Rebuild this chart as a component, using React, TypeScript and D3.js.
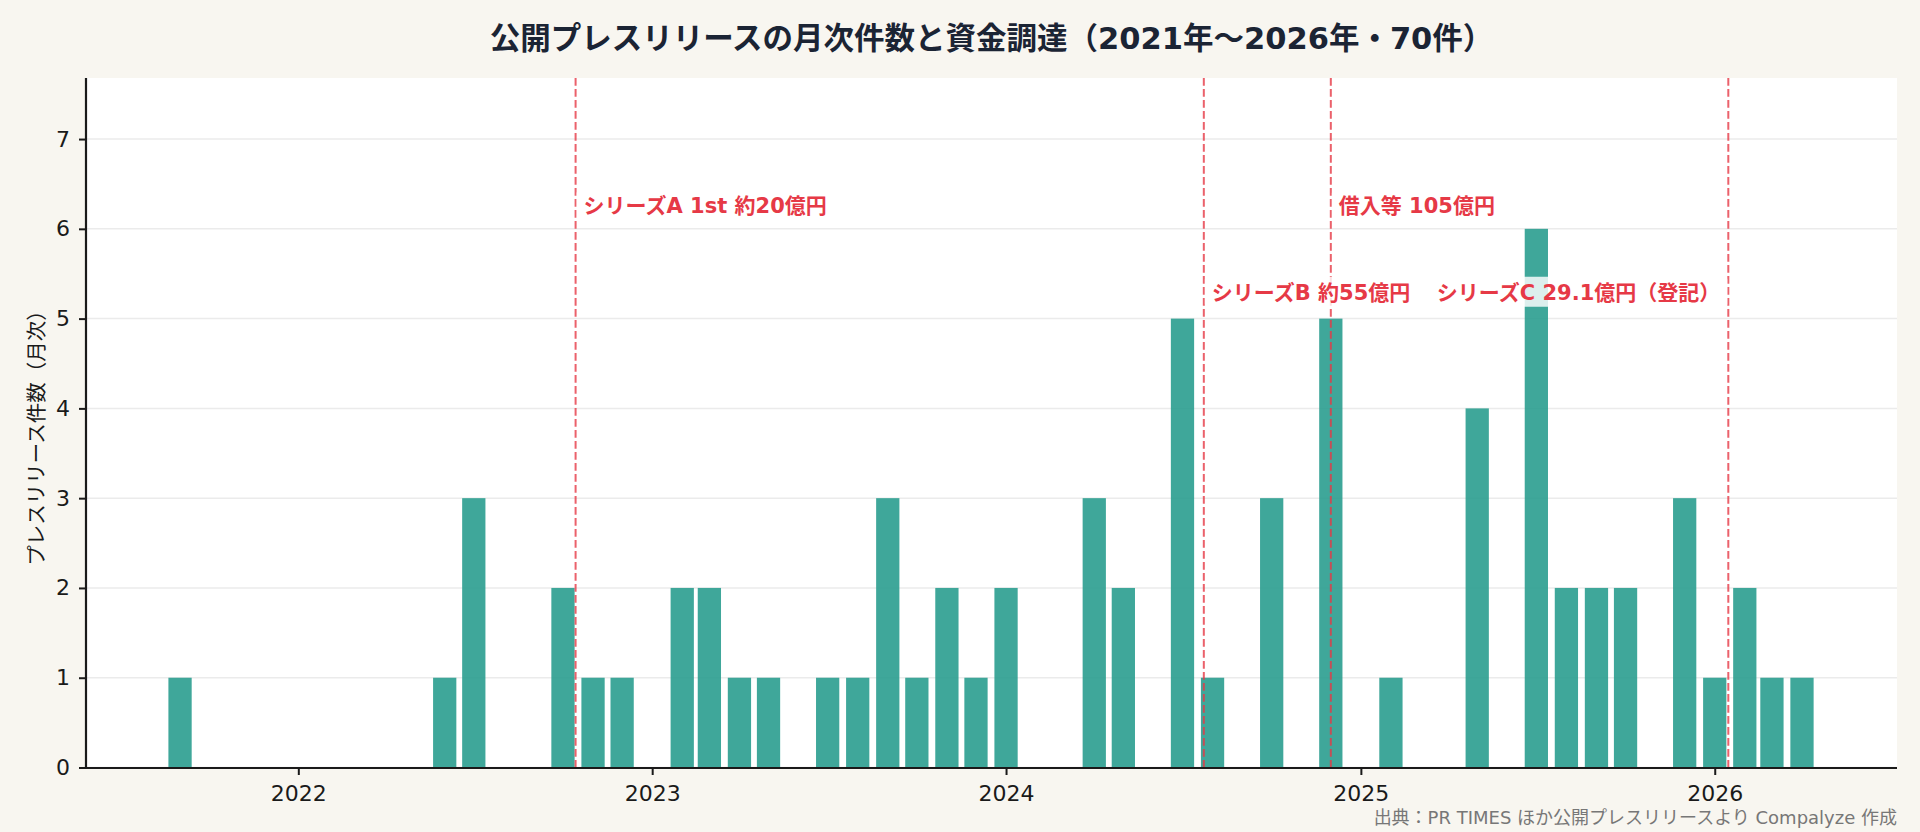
import { useEffect, useRef } from "react";
import * as d3 from "d3";

const width = 1920;
const height = 832;
const margin = { top: 78, right: 23, bottom: 64, left: 86 };
const font = "'DejaVu Sans', 'Noto Sans CJK JP', sans-serif";

// monthly press release counts
const months = [
  "2021-09", "2022-06", "2022-07", "2022-10", "2022-11", "2022-12",
  "2023-02", "2023-03", "2023-04", "2023-05", "2023-07", "2023-08",
  "2023-09", "2023-10", "2023-11", "2023-12", "2024-01", "2024-04",
  "2024-05", "2024-07", "2024-08", "2024-10", "2024-12", "2025-02",
  "2025-05", "2025-07", "2025-08", "2025-09", "2025-10", "2025-12",
  "2026-01", "2026-02", "2026-03", "2026-04",
];
const counts = [
  1, 1, 3, 2, 1, 1,
  2, 2, 1, 1, 1, 1,
  3, 1, 2, 1, 2, 3,
  2, 5, 1, 3, 5, 1,
  4, 6, 2, 2, 2, 3,
  1, 2, 1, 1,
];

// funding events
const eventDates = ["2022-10-14", "2024-07-23", "2024-12-01", "2026-01-15"];
const eventLabels = [
  "シリーズA 1st 約20億円",
  "シリーズB 約55億円",
  "借入等 105億円",
  "シリーズC 29.1億円（登記）",
];
const eventLevels = [6.26, 5.3, 6.26, 5.3];
const eventSides = ["right", "right", "right", "left"];

const yearTicks = ["2022", "2023", "2024", "2025", "2026"];
const yTicks = [0, 1, 2, 3, 4, 5, 6, 7];

const title = "公開プレスリリースの月次件数と資金調達（2021年〜2026年・70件）";
const yLabel = "プレスリリース件数（月次）";
const source = "出典：PR TIMES ほか公開プレスリリースより Compalyze 作成";

const parseMonth = d3.utcParse("%Y-%m");
const parseDay = d3.utcParse("%Y-%m-%d");

const App = () => {
  const svgRef = useRef<SVGSVGElement>(null);

  useEffect(() => {
    const svg = d3.select(svgRef.current);
    svg.selectAll("*").remove();

    const x = d3
      .scaleUtc()
      .domain([parseDay("2021-05-27")!, parseDay("2026-07-08")!])
      .range([margin.left, width - margin.right]);
    const y = d3
      .scaleLinear()
      .domain([0, 7.68])
      .range([height - margin.bottom - 0.5, margin.top]);

    svg.append("rect").attr("width", width).attr("height", height).attr("fill", "#f8f6f0");
    svg
      .append("rect")
      .attr("x", margin.left)
      .attr("y", margin.top)
      .attr("width", width - margin.left - margin.right)
      .attr("height", height - margin.top - margin.bottom)
      .attr("fill", "#ffffff");

    // grid
    svg
      .append("g")
      .selectAll("line")
      .data(yTicks)
      .join("line")
      .attr("x1", margin.left)
      .attr("x2", width - margin.right)
      .attr("y1", (d) => y(d))
      .attr("y2", (d) => y(d))
      .attr("stroke", "#ebebeb")
      .attr("stroke-width", 1.5);

    // bars
    const halfBar = 12 * 24 * 3600 * 1000;
    svg
      .append("g")
      .selectAll("rect")
      .data(months)
      .join("rect")
      .attr("x", (d) => x(new Date(parseMonth(d)!.getTime() - halfBar)))
      .attr("width", (d) => x(new Date(parseMonth(d)!.getTime() + halfBar)) - x(new Date(parseMonth(d)!.getTime() - halfBar)))
      .attr("y", (_, i) => y(counts[i]))
      .attr("height", (_, i) => y(0) - y(counts[i]))
      .attr("fill", "#2a9d8f")
      .attr("fill-opacity", 0.9);

    // event lines
    svg
      .append("g")
      .selectAll("line")
      .data(eventDates)
      .join("line")
      .attr("x1", (d) => x(parseDay(d)!))
      .attr("x2", (d) => x(parseDay(d)!))
      .attr("y1", margin.top)
      .attr("y2", height - margin.bottom)
      .attr("stroke", "#e63946")
      .attr("stroke-opacity", 0.8)
      .attr("stroke-width", 2)
      .attr("stroke-dasharray", "7.7 3.3");

    // event labels with white boxes
    const labels = svg.append("g");
    eventDates.forEach((d, i) => {
      const lx = x(parseDay(d)!);
      const ly = y(eventLevels[i]);
      const right = eventSides[i] === "right";
      const g = labels.append("g");
      const box = g.append("rect").attr("fill", "#ffffff").attr("fill-opacity", 0.82).attr("rx", 3);
      const t = g
        .append("text")
        .attr("x", right ? lx + 8 : lx - 8)
        .attr("y", ly + 8)
        .attr("text-anchor", right ? "start" : "end")
        .attr("font-family", font)
        .attr("font-weight", 700)
        .attr("font-size", 21)
        .attr("fill", "#e63946")
        .text(eventLabels[i]);
      const bb = (t.node() as SVGTextElement).getBBox();
      box
        .attr("x", bb.x - 7)
        .attr("y", ly - 15)
        .attr("width", bb.width + 14)
        .attr("height", 30);
    });

    // axes
    const xAxis = d3
      .axisBottom(x)
      .tickValues(yearTicks.map((d) => d3.utcParse("%Y")(d)!))
      .tickFormat((d) => d3.utcFormat("%Y")(d as Date))
      .tickSize(7)
      .tickPadding(10);
    const gx = svg
      .append("g")
      .attr("transform", `translate(0,${height - margin.bottom})`)
      .call(xAxis);
    const yAxis = d3.axisLeft(y).tickValues(yTicks).tickFormat(d3.format("d")).tickSize(7).tickPadding(9);
    const gy = svg.append("g").attr("transform", `translate(${margin.left},0)`).call(yAxis);
    [gx, gy].forEach((g) => {
      g.select(".domain").attr("stroke", "#1a1a1a").attr("stroke-width", 2.2);
      g.selectAll(".tick line").attr("stroke", "#1a1a1a").attr("stroke-width", 2);
      g.selectAll(".tick text")
        .attr("font-family", font)
        .attr("font-size", 22)
        .attr("fill", "#1a1a1a");
    });
    gx.select(".domain").attr("d", `M${margin.left},0H${width - margin.right}`);
    gy.select(".domain").attr("d", `M0,${margin.top}V${height - margin.bottom}`);

    // title, labels, source
    svg
      .append("text")
      .attr("x", (margin.left + width - margin.right) / 2)
      .attr("y", 49)
      .attr("text-anchor", "middle")
      .attr("font-family", font)
      .attr("font-weight", 700)
      .attr("font-size", 30.5)
      .attr("fill", "#1b2434")
      .text(title);
    svg
      .append("text")
      .attr("transform", `translate(44,${(margin.top + height - margin.bottom) / 2 + 10}) rotate(-90)`)
      .attr("text-anchor", "middle")
      .attr("font-family", font)
      .attr("font-size", 20.5)
      .attr("fill", "#1a1a1a")
      .text(yLabel);
    svg
      .append("text")
      .attr("x", width - margin.right)
      .attr("y", 824)
      .attr("text-anchor", "end")
      .attr("font-family", font)
      .attr("font-size", 18)
      .attr("fill", "#777777")
      .text(source);
  }, []);

  return (
    <svg
      ref={svgRef}
      width={width}
      height={height}
      style={{ position: "absolute", left: 0, top: 0, display: "block" }}
    />
  );
};

export default App;
